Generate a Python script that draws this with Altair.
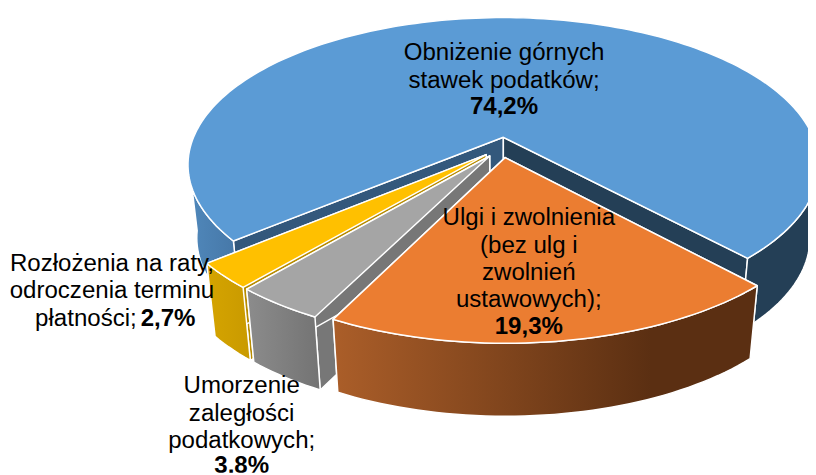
import math
import altair as alt

categories = ["Obniżenie górnych stawek podatków", "Ulgi i zwolnienia", "Umorzenie zaległości podatkowych", "Rozłożenia na raty"]
values = [74.2, 19.3, 3.8, 2.7]

tops = ["#5b9bd5", "#eb7d31", "#a5a5a5", "#ffc000"]
left_walls = ["#33587c", "#8a4a1c", "#777777", "#b88c00"]
right_walls = ["#243f56", "#5c3012", "#777777", "#b88c00"]
side_grad = [("#5088bb", "#4576a6"), ("#ab5e29", "#5b2f12"), ("#8c8c8c", "#737373"), ("#d5a400", "#c99a00")]
grad_end = [1, 0.75, 1, 1]
side_right = "#243f56"

labels = [
    ("Obniżenie górnych", 509, 51, "normal", "center"),
    ("stawek podatków;", 509, 79, "normal", "center"),
    ("74,2%", 509, 106, "bold", "center"),
    ("Ulgi i zwolnienia", 534, 218, "normal", "center"),
    ("(bez ulg i", 534, 246, "normal", "center"),
    ("zwolnień", 534, 273, "normal", "center"),
    ("ustawowych);", 534, 301, "normal", "center"),
    ("19,3%", 534, 328, "bold", "center"),
    ("Umorzenie", 244, 388, "normal", "center"),
    ("zaległości", 244, 416, "normal", "center"),
    ("podatkowych;", 244, 443, "normal", "center"),
    ("3,8%", 244, 468, "bold", "center"),
    ("Rozłożenia na raty,", 113, 264, "normal", "center"),
    ("odroczenia terminu", 113, 292, "normal", "center"),
    ("płatności;", 138, 320, "normal", "right"),
    ("2,7%", 142, 320, "bold", "left"),
]

OX, OY = 8, 8          # page margin
FIT = 824 / 816        # the 808 px wide page is shown at 816 px
CX, CY = 502, 145      # projected pie centre
A, B, K = 314, 146, 0.19
EXPLODE = 0.07
DEPTH = 73
SHRINK = 0.972
START = 230.1
FRONT = (98, 262)


def project(u, v):
    w = 1 - K * v
    return (CX + A * u / w, CY + B * v / w)


def lower(p):
    return (CX + (p[0] - CX) * SHRINK, p[1] + DEPTH)


def px(p):
    return [p[0] * FIT - OX, p[1] * FIT - OY]


def rim(a0, a1, c):
    n = max(2, int(abs(a1 - a0) / 1.5) + 1)
    out = []
    for i in range(n + 1):
        t = math.radians(a0 + (a1 - a0) * i / n)
        out.append(project(c[0] + math.sin(t), c[1] - math.cos(t)))
    return out


def feature(points):
    ring = [px(p) for p in points]
    ring.append(ring[0])
    return {"type": "Feature", "properties": {}, "geometry": {"type": "Polygon", "coordinates": [ring]}}


proj = alt.Projection(type="identity", scale=1, translate=[0, 0])


def shape(points, fill, sw=1.5):
    return alt.Chart(alt.Data(values=[feature(points)])).mark_geoshape(
        fill=fill, stroke="white", strokeWidth=sw, strokeJoin="round"
    ).project(**proj.to_dict())


def grad(c0, c1, end=1):
    return alt.Gradient(gradient="linear", x1=0, x2=end, y1=0, y2=0,
                        stops=[alt.GradientStop(color=c0, offset=0), alt.GradientStop(color=c1, offset=1)])


layers = []
angle = START
slices = []
for i, val in enumerate(values):
    span = val / sum(values) * 360
    slices.append((i, angle, angle + span))
    angle += span

for i, a0, a1 in [slices[0], slices[3], slices[2], slices[1]]:
    mid = math.radians((a0 + a1) / 2)
    c = (EXPLODE * math.sin(mid), -EXPLODE * math.cos(mid))
    apex = project(*c)
    whole = rim(a0, a1, c)
    layers.append(shape([apex, whole[0], lower(whole[0]), lower(apex)], left_walls[i]))
    layers.append(shape([apex, whole[-1], lower(whole[-1]), lower(apex)], right_walls[i]))
    if i == 0:
        arc = rim(a0, FRONT[1], c)
        layers.append(shape(arc + [lower(p) for p in reversed(arc)], grad(*side_grad[0])))
        arc = rim(FRONT[0] + 360, a1, c)
        layers.append(shape(arc + [lower(p) for p in reversed(arc)], side_right))
    else:
        arc = whole
        layers.append(shape(arc + [lower(p) for p in reversed(arc)], grad(*side_grad[i], grad_end[i])))
    layers.append(shape([apex] + whole, tops[i]))

for text, x, y, weight, align in labels:
    layers.append(
        alt.Chart(alt.Data(values=[{"t": text, "lon": x - OX, "lat": y - OY}])).mark_text(
            font="Liberation Sans", fontSize=24.3, fontWeight=weight, align=align, baseline="middle", color="black"
        ).encode(longitude="lon:Q", latitude="lat:Q", text="t:N").project(**proj.to_dict())
    )

chart = alt.layer(*layers).properties(width=808, height=467, padding=0, autosize=alt.AutoSizeParams(type="none")).configure_view(stroke=None)
chart.save("out.html", embed_options={"renderer": "svg", "actions": False})
